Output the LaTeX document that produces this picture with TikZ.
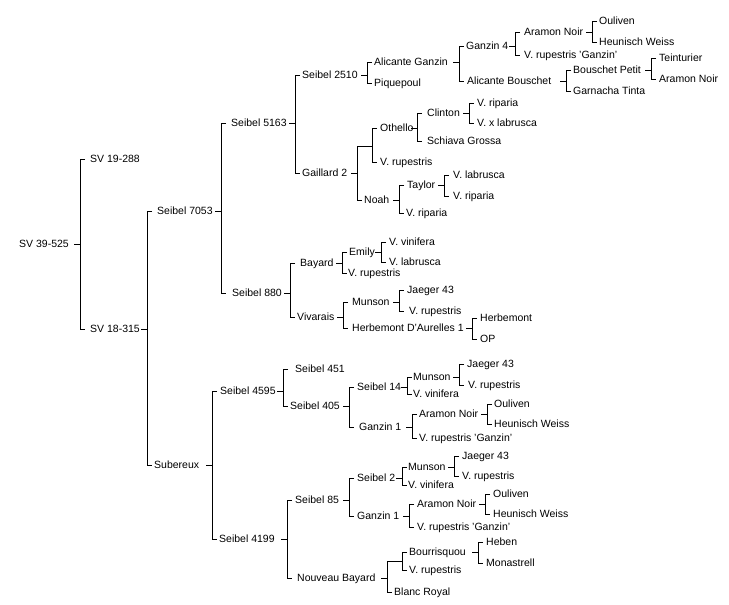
\documentclass[tikz,border=0pt]{standalone}
\usepackage{fontspec}
\setmainfont{Liberation Sans}
\tikzset{
  lbl/.style={anchor=west, inner sep=0pt, text height=7.5pt, text depth=0pt, font=\fontsize{10.5}{12}\selectfont},
  conn/.style={line width=1pt, draw=black}
}
\newcommand\brk[4]{%
  \path (#2,0) coordinate (v);
  \draw[conn] (#1.east -| v) ++(-6,0) -- (#1.east -| v);
  \draw[conn] (#3.west -| v) ++(5,0) -- (#3.west -| v) -- (#4.west -| v) -- ++(5,0);
}
\begin{document}
\begin{tikzpicture}[x=1pt, y=-1pt]
\fill[white] (0,0) rectangle (729,605);
\useasboundingbox (0,0) rectangle (729,605);
% nodes
\node[lbl] (a1) at (19,244) {SV 39-525};
\node[lbl] (a2) at (90,159) {SV 19-288};
\node[lbl] (a3) at (90,329) {SV 18-315};
\node[lbl] (a4) at (157,211) {Seibel 7053};
\node[lbl] (a5) at (154,465) {Subereux};
\node[lbl] (a6) at (231,123) {Seibel 5163};
\node[lbl] (a7) at (232,293) {Seibel 880};
\node[lbl] (a8) at (302,75) {Seibel 2510};
\node[lbl] (a9) at (302,173) {Gaillard 2};
\node[lbl] (a10) at (374,62) {Alicante Ganzin};
\node[lbl] (a11) at (374,83) {Piquepoul};
\node[lbl] (a12) at (466,46) {Ganzin 4};
\node[lbl] (a13) at (467,81) {Alicante Bouschet};
\node[lbl] (a14) at (524,32) {Aramon Noir};
\node[lbl] (a15) at (524,55) {V. rupestris 'Ganzin'};
\node[lbl] (a16) at (599,21) {Ouliven};
\node[lbl] (a17) at (599,42) {Heunisch Weiss};
\node[lbl] (a18) at (573,70) {Bouschet Petit};
\node[lbl] (a19) at (573,91) {Garnacha Tinta};
\node[lbl] (a20) at (659,58) {Teinturier};
\node[lbl] (a21) at (659,79) {Aramon Noir};
\coordinate (j1) at (372,146);
\node[lbl] (a22) at (364,200) {Noah};
\node[lbl] (a23) at (380,128) {Othello};
\node[lbl] (a24) at (380,162) {V. rupestris};
\node[lbl] (a25) at (427,113) {Clinton};
\node[lbl] (a26) at (427,141) {Schiava Grossa};
\node[lbl] (a27) at (477,103) {V. riparia};
\node[lbl] (a28) at (477,123) {V. x labrusca};
\node[lbl] (a29) at (407,185) {Taylor};
\node[lbl] (a30) at (406,213) {V. riparia};
\node[lbl] (a31) at (453,175) {V. labrusca};
\node[lbl] (a32) at (453,196) {V. riparia};
\node[lbl] (a33) at (300,263) {Bayard};
\node[lbl] (a34) at (297,317) {Vivarais};
\node[lbl] (a35) at (349,252) {Emily};
\node[lbl] (a36) at (348,273) {V. rupestris};
\node[lbl] (a37) at (389,242) {V. vinifera};
\node[lbl] (a38) at (389,262) {V. labrusca};
\node[lbl] (a39) at (352,302) {Munson};
\node[lbl] (a40) at (352,328) {Herbemont D'Aurelles 1};
\node[lbl] (a41) at (407,290) {Jaeger 43};
\node[lbl] (a42) at (409,311) {V. rupestris};
\node[lbl] (a43) at (480,318) {Herbemont};
\node[lbl] (a44) at (480,339) {OP};
\node[lbl] (b1) at (220,391) {Seibel 4595};
\node[lbl] (b2) at (219,539) {Seibel 4199};
\node[lbl] (b3) at (295,369) {Seibel 451};
\node[lbl] (b4) at (290,406) {Seibel 405};
\node[lbl] (b5) at (357,387) {Seibel 14};
\node[lbl] (b6) at (359,427) {Ganzin 1};
\node[lbl] (b7) at (413,377) {Munson};
\node[lbl] (b8) at (413,394) {V. vinifera};
\node[lbl] (b9) at (467,364) {Jaeger 43};
\node[lbl] (b10) at (468,385) {V. rupestris};
\node[lbl] (b11) at (419,414) {Aramon Noir};
\node[lbl] (b12) at (419,438) {V. rupestris 'Ganzin'};
\node[lbl] (b13) at (494,404) {Ouliven};
\node[lbl] (b14) at (494,424) {Heunisch Weiss};
\node[lbl] (b15) at (295,500) {Seibel 85};
\node[lbl] (b16) at (297,578) {Nouveau Bayard};
\node[lbl] (b17) at (357,478) {Seibel 2};
\node[lbl] (b18) at (357,516) {Ganzin 1};
\node[lbl] (b19) at (408,467) {Munson};
\node[lbl] (b20) at (408,485) {V. vinifera};
\node[lbl] (b21) at (462,456) {Jaeger 43};
\node[lbl] (b22) at (462,476) {V. rupestris};
\node[lbl] (b23) at (417,504) {Aramon Noir};
\node[lbl] (b24) at (417,527) {V. rupestris 'Ganzin'};
\node[lbl] (b25) at (493,494) {Ouliven};
\node[lbl] (b26) at (493,514) {Heunisch Weiss};
\coordinate (j2) at (402,561);
\node[lbl] (b27) at (394,592) {Blanc Royal};
\node[lbl] (b28) at (409,552) {Bourrisquou};
\node[lbl] (b29) at (409,570) {V. rupestris};
\node[lbl] (b30) at (486,542) {Heben};
\node[lbl] (b31) at (486,563) {Monastrell};
% connectors
\brk{a1}{80}{a2}{a3}
\brk{a3}{147}{a4}{a5}
\brk{a4}{221}{a6}{a7}
\brk{a6}{295}{a8}{a9}
\brk{a8}{367}{a10}{a11}
\brk{a10}{459}{a12}{a13}
\brk{a12}{515}{a14}{a15}
\brk{a14}{592}{a16}{a17}
\brk{a13}{566}{a18}{a19}
\brk{a18}{651}{a20}{a21}
% Gaillard 2
\path (357,0) coordinate (vg);
\draw[conn] (a9.east -| vg) ++(-6,0) -- (a9.east -| vg);
\draw[conn] (j1) -- (j1 -| vg) -- (a22.west -| vg) -- ++(5,0);
\draw[conn] (a23.west -| j1) ++(5,0) -- (a23.west -| j1) -- (a24.west -| j1) -- ++(5,0);
\brk{a23}{417}{a25}{a26}
\brk{a25}{469}{a27}{a28}
\brk{a22}{399}{a29}{a30}
\brk{a29}{444}{a31}{a32}
\brk{a7}{290}{a33}{a34}
\brk{a33}{342}{a35}{a36}
\brk{a35}{381}{a37}{a38}
\brk{a34}{343}{a39}{a40}
\brk{a39}{399}{a41}{a42}
\brk{a40}{472}{a43}{a44}
\brk{a5}{212}{b1}{b2}
\brk{b1}{283}{b3}{b4}
\brk{b4}{349}{b5}{b6}
\brk{b5}{407}{b7}{b8}
\brk{b7}{459}{b9}{b10}
\brk{b6}{412}{b11}{b12}
\brk{b11}{487}{b13}{b14}
\brk{b2}{287}{b15}{b16}
\brk{b15}{349}{b17}{b18}
\brk{b17}{402}{b19}{b20}
\brk{b19}{454}{b21}{b22}
\brk{b18}{409}{b23}{b24}
\brk{b23}{485}{b25}{b26}
% Nouveau Bayard
\path (387,0) coordinate (vn);
\draw[conn] (b16.east -| vn) ++(-6,0) -- (b16.east -| vn);
\draw[conn] (j2) -- (j2 -| vn) -- (b27.west -| vn) -- ++(5,0);
\draw[conn] (b28.west -| j2) ++(5,0) -- (b28.west -| j2) -- (b29.west -| j2) -- ++(5,0);
\brk{b28}{478}{b30}{b31}
\end{tikzpicture}
\end{document}
